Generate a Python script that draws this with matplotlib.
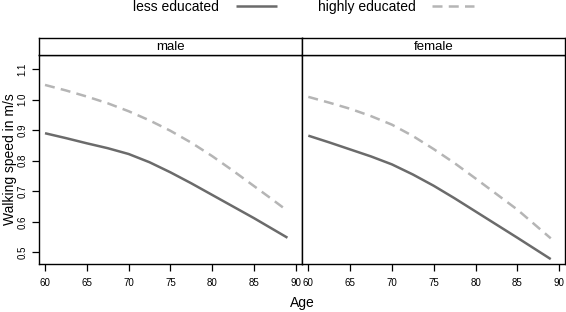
import numpy as np
import matplotlib.pyplot as plt

plt.rcParams['font.family'] = ['Liberation Sans', 'DejaVu Sans']

# data
age = [60, 62.5, 65, 67.5, 70, 72.5, 75, 77.5, 80, 82.5, 85, 87, 89]
male_less = [0.890, 0.874, 0.857, 0.841, 0.822, 0.795, 0.762, 0.726, 0.688, 0.650, 0.612, 0.580, 0.548]
male_high = [1.048, 1.030, 1.010, 0.988, 0.962, 0.932, 0.898, 0.859, 0.815, 0.767, 0.717, 0.677, 0.636]
female_less = [0.882, 0.860, 0.837, 0.814, 0.788, 0.755, 0.718, 0.677, 0.634, 0.591, 0.548, 0.513, 0.478]
female_high = [1.009, 0.990, 0.970, 0.946, 0.918, 0.881, 0.838, 0.792, 0.742, 0.691, 0.640, 0.593, 0.546]
panels = ['male', 'female']
xticks = [60, 65, 70, 75, 80, 85, 90]
yticks = [0.5, 0.6, 0.7, 0.8, 0.9, 1.0, 1.1]

W, H = 566, 312
fig = plt.figure(figsize=(W / 100, H / 100), dpi=100)

solid_col = '#6b6b6b'
dash_col = '#b5b5b5'

lefts = [39, 302.3]
pw = 262.5
top, bot = 55, 264.3
strip_top = 38.3

series = [(male_less, male_high), (female_less, female_high)]
for i, name in enumerate(panels):
    ax = fig.add_axes([lefts[i] / W, (H - bot) / H, pw / W, (bot - top) / H])
    less, high = series[i]
    l1, = ax.plot(age, less, color=solid_col, lw=1.8, solid_capstyle='butt')
    l2, = ax.plot(age, high, color=dash_col, lw=1.8, dashes=(4, 2.5))
    ax.set_xlim(59.28, 90.68)
    ax.set_ylim(0.461, 1.146)
    ax.set_xticks(xticks)
    ax.set_yticks(yticks)
    ax.tick_params(axis='x', length=5, width=0.9, labelsize=7, pad=5)
    if i == 0:
        ax.tick_params(axis='y', length=5, width=0.9, labelsize=7, pad=3.5)
        ax.set_yticklabels(['%.1f' % v for v in yticks], rotation=90, va='center')
    else:
        ax.tick_params(axis='y', left=False, labelleft=False)
    for s in ax.spines.values():
        s.set_linewidth(1.0)
    # strip
    sax = fig.add_axes([lefts[i] / W, (H - top) / H, pw / W, (top - strip_top) / H])
    sax.set_xticks([])
    sax.set_yticks([])
    for s in sax.spines.values():
        s.set_linewidth(1.0)
    sax.text(0.5, 0.45, name, ha='center', va='center', fontsize=9.5, transform=sax.transAxes)

fig.legend([l1, l2], ['less educated', 'highly educated'], loc='center',
           bbox_to_anchor=(303.5 / W, 1 - 7 / H), ncol=2, frameon=False,
           markerfirst=False, fontsize=10, handlelength=3.0, handletextpad=1.2,
           columnspacing=2.9, borderpad=0, borderaxespad=0)

fig.text(10 / W, 1 - 159 / H, 'Walking speed in m/s', rotation=90,
         ha='center', va='center', fontsize=10)
fig.text(302 / W, 1 - 303 / H, 'Age', ha='center', va='center', fontsize=10)

fig.savefig('out.png', dpi=100)
